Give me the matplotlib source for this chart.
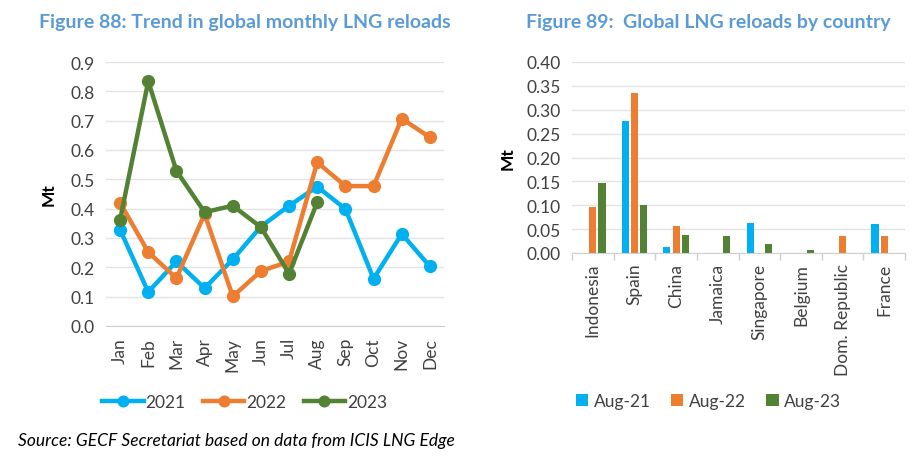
import matplotlib
matplotlib.use('Agg')
import matplotlib.pyplot as plt
import numpy as np

plt.rcParams['font.family'] = ['Lato', 'DejaVu Sans']

# --- данные ---
months = ['Jan', 'Feb', 'Mar', 'Apr', 'May', 'Jun', 'Jul', 'Aug', 'Sep', 'Oct', 'Nov', 'Dec']
reloads_2021 = [0.328, 0.116, 0.220, 0.129, 0.227, 0.339, 0.410, 0.475, 0.399, 0.161, 0.314, 0.203]
reloads_2022 = [0.420, 0.252, 0.163, 0.382, 0.101, 0.187, 0.220, 0.558, 0.477, 0.477, 0.707, 0.643]
reloads_2023 = [0.362, 0.834, 0.529, 0.388, 0.410, 0.337, 0.178, 0.422]

countries = ['Indonesia', 'Spain', 'China', 'Jamaica', 'Singapore', 'Belgium', 'Dom. Republic', 'France']
aug_21 = [0.0, 0.276, 0.0125, 0.0, 0.062, 0.0, 0.0, 0.060]
aug_22 = [0.0955, 0.335, 0.0557, 0.0, 0.0, 0.0, 0.0355, 0.0348]
aug_23 = [0.1456, 0.101, 0.037, 0.0355, 0.0188, 0.006, 0.0, 0.0]

BLUE = '#00B0F0'
ORANGE = '#ED7D31'
GREEN = '#548235'
TITLE_C = '#5B9BD5'
GRID_C = '#E3E3E3'
AXIS_C = '#D0D0D0'
TXT = '#404040'

fig = plt.figure(figsize=(9.23, 4.77), dpi=100)

# === Figure 88 ===
ax1 = fig.add_axes([106 / 923, 1 - 327 / 477, (444 - 106) / 923, (327 - 63) / 477])
x = np.arange(len(months))
for vals, c, lab in [(reloads_2021, BLUE, '2021'), (reloads_2022, ORANGE, '2022'), (reloads_2023, GREEN, '2023')]:
    ax1.plot(x[:len(vals)], vals, color=c, lw=3.2, marker='o', ms=8.5, label=lab, solid_joinstyle='round')
ax1.set_xlim(-0.5, 11.5)
ax1.set_ylim(0, 0.9)
ax1.set_yticks(np.arange(0, 0.91, 0.1))
ax1.set_yticklabels([f'{v:.1f}' for v in np.arange(0, 0.91, 0.1)])
ax1.set_xticks(x)
ax1.set_xticklabels(months, rotation=90)
ax1.set_ylabel('Mt', fontsize=12.5, fontweight='bold', color='black', labelpad=10)
ax1.set_title('Figure 88: Trend in global monthly LNG reloads', fontsize=14, fontweight='bold',
              color=TITLE_C, pad=25, x=0.41)
ax1.legend(loc='upper center', bbox_to_anchor=(0.41, -0.2), ncol=3, frameon=False,
           fontsize=12.5, handlelength=2.4, columnspacing=1.0, handletextpad=0.1, labelcolor=TXT,
           markerscale=0.9)

# === Figure 89 ===
ax2 = fig.add_axes([572 / 923, 1 - 254 / 477, (905 - 572) / 923, (254 - 63) / 477])
xc = np.arange(len(countries))
w = 0.17
ax2.bar(xc - 0.22, aug_21, w, color=BLUE, label='Aug-21')
ax2.bar(xc, aug_22, w, color=ORANGE, label='Aug-22')
ax2.bar(xc + 0.22, aug_23, w, color=GREEN, label='Aug-23')
ax2.set_xlim(-0.5, 7.5)
ax2.set_ylim(0, 0.40)
ax2.set_yticks(np.arange(0, 0.401, 0.05))
ax2.set_yticklabels([f'{v:.2f}' for v in np.arange(0, 0.401, 0.05)])
ax2.set_xticks(xc)
ax2.set_xticklabels(countries, rotation=90)
ax2.set_xticks(np.arange(-0.5, 8, 1), minor=True)
ax2.tick_params(axis='x', which='major', length=0, pad=7)
ax2.tick_params(axis='x', which='minor', length=5, color=AXIS_C, width=1)
ax2.set_ylabel('Mt', fontsize=12.5, fontweight='bold', color='black', labelpad=8)
ax2.set_title('Figure 89:  Global LNG reloads by country', fontsize=14, fontweight='bold',
              color=TITLE_C, pad=25, x=0.41)
ax2.legend(loc='upper center', bbox_to_anchor=(0.41, -0.65), ncol=3, frameon=False,
           fontsize=12.5, handlelength=0.7, handleheight=0.7, columnspacing=1.2,
           handletextpad=0.3, labelcolor=TXT)

for ax in (ax1, ax2):
    ax.grid(axis='y', color=GRID_C, lw=1)
    ax.set_axisbelow(True)
    for s in ('top', 'right', 'left'):
        ax.spines[s].set_visible(False)
    ax.spines['bottom'].set_color(AXIS_C)
    ax.tick_params(axis='y', length=0, labelsize=12.5, labelcolor=TXT, pad=8)
    ax.tick_params(axis='x', labelsize=12.5, labelcolor=TXT)
ax1.tick_params(axis='x', length=0, pad=8)

fig.text(18 / 923, 1 - 441 / 477, 'Source: GECF Secretariat based on data from ICIS LNG Edge',
         fontsize=12.5, style='italic', color='black', va='center')

fig.savefig('out.png', dpi=100)
